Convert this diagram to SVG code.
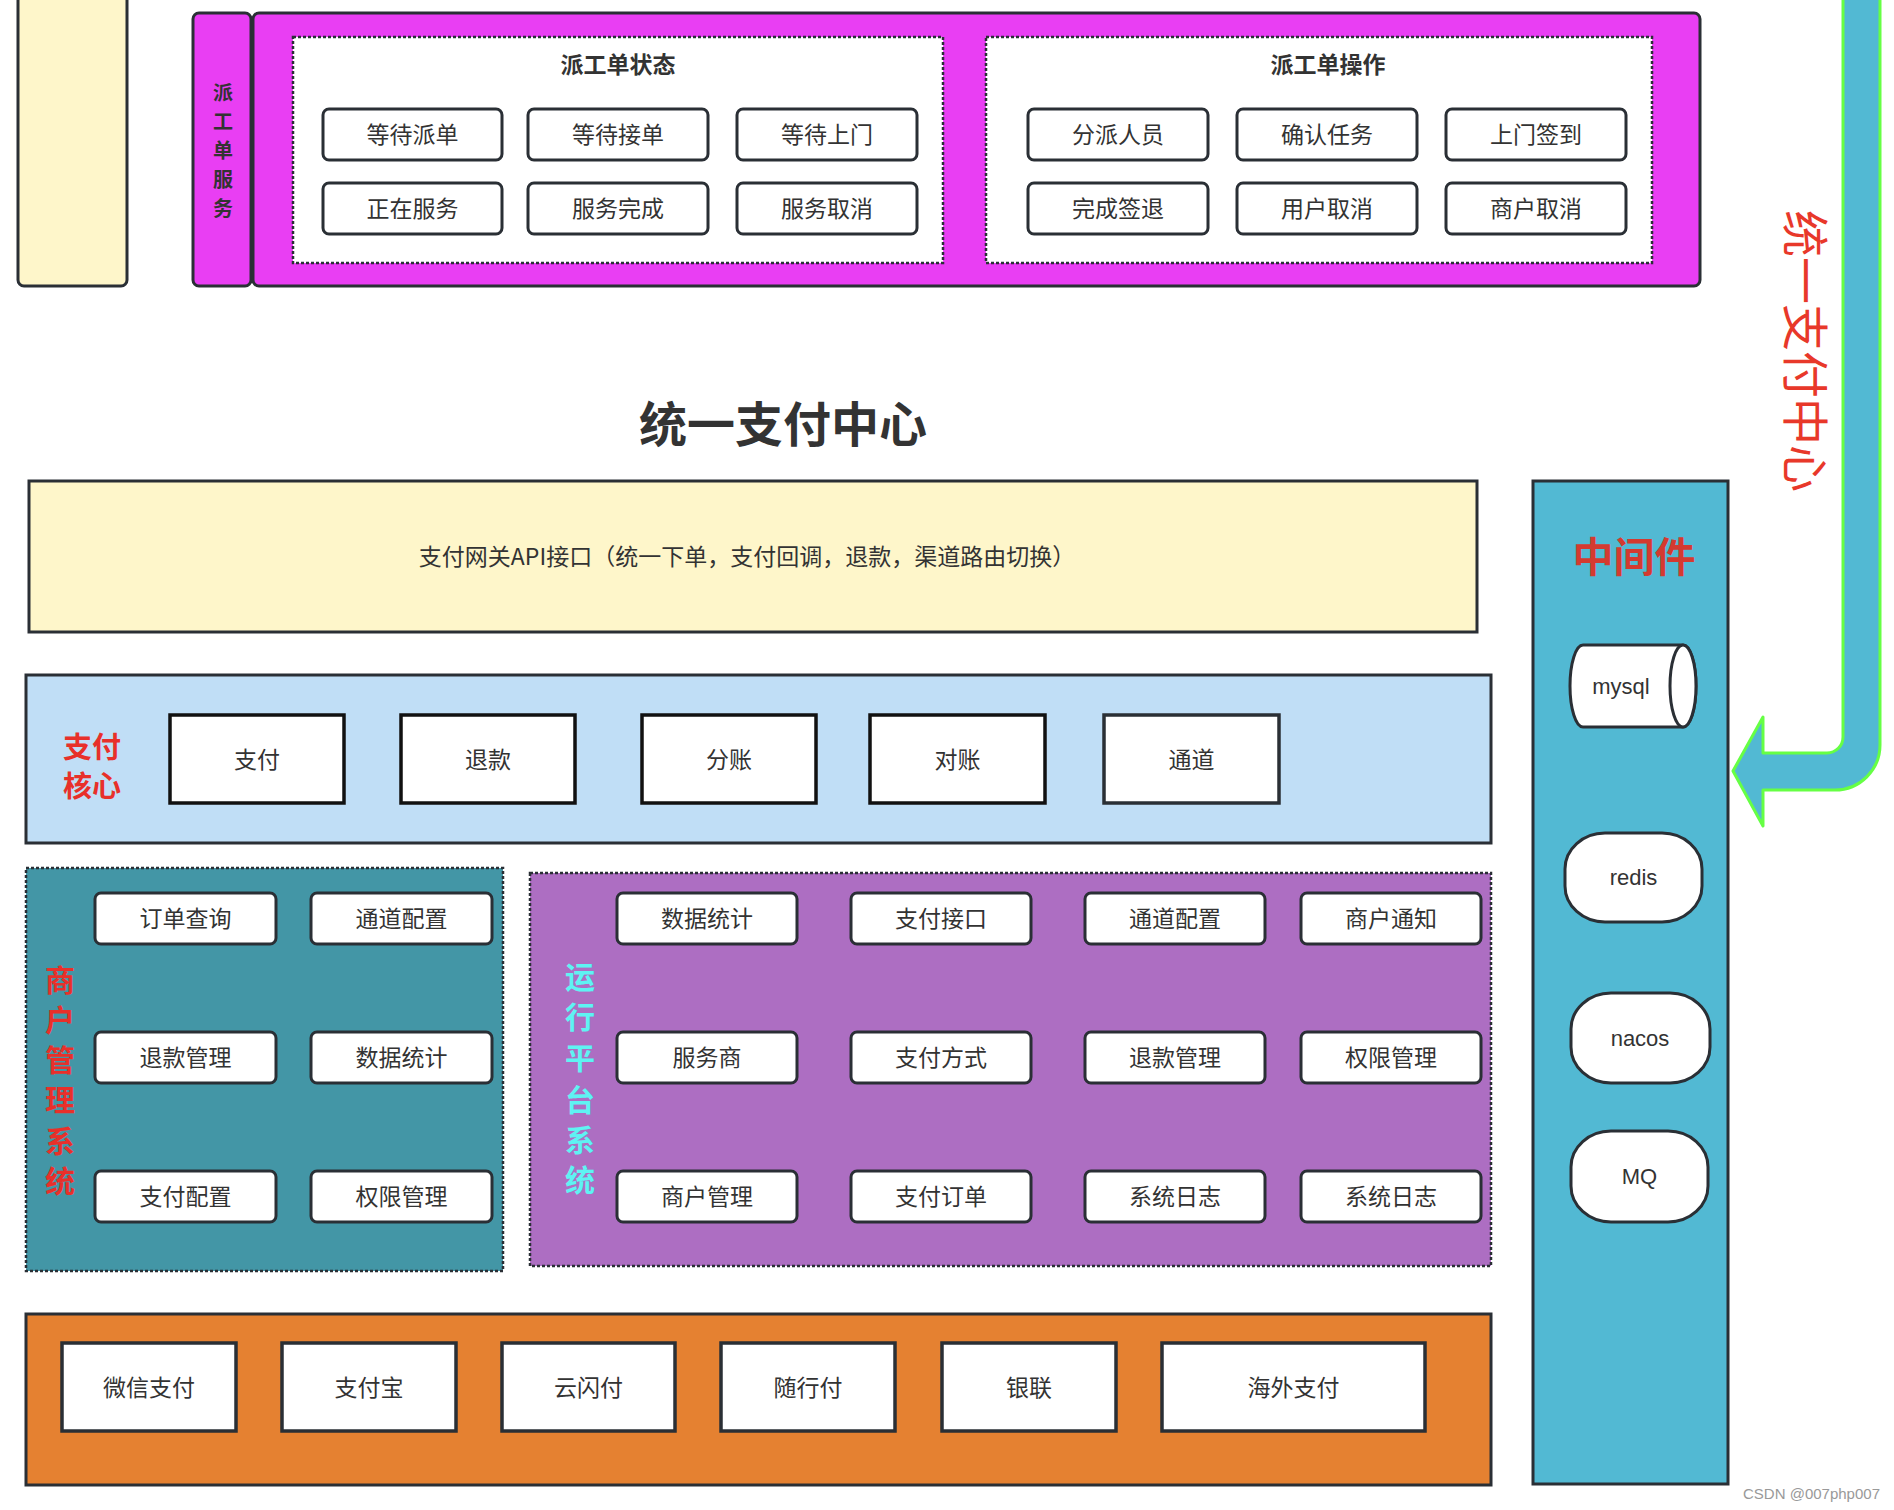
<svg xmlns="http://www.w3.org/2000/svg" width="1894" height="1510" viewBox="0 0 1894 1510">
<defs>
<style>
.t{font-family:"Noto Sans CJK SC","Liberation Sans",sans-serif;fill:#333;text-anchor:middle;dominant-baseline:central}
.btn{fill:#fff;stroke:#2a2f35;stroke-width:3}
.sq{fill:#fff;stroke:#111;stroke-width:3.5}
.ob{fill:#fff;stroke:#2a2f35;stroke-width:3.5}
.frame{stroke:#2a2f35;stroke-width:3}
.dot{stroke:#2a2f35;stroke-width:2.5;stroke-dasharray:3 2}
.bt{font-size:23px}
.vl{font-size:30px;font-weight:bold}
.lat{font-family:"Liberation Sans",Arial,sans-serif;fill:#333;text-anchor:middle;dominant-baseline:central;font-size:22px}
</style>
</defs>
<rect width="1894" height="1510" fill="#fff"/>

<g id="left-stub">
<rect x="18" y="-20" width="109" height="306" rx="6" fill="#fef6ca" class="frame"/>
</g>

<g id="dispatch-service">
<rect x="193" y="13" width="58" height="273" rx="6" fill="#e93ef3" class="frame"/>
<text class="t" x="223" font-size="20" font-weight="bold"><tspan x="223" y="91">派</tspan><tspan x="223" y="120">工</tspan><tspan x="223" y="149">单</tspan><tspan x="223" y="178">服</tspan><tspan x="223" y="207">务</tspan></text>
<rect x="253" y="13" width="1447" height="273" rx="6" fill="#e93ef3" class="frame"/>
</g>

<g id="dispatch-status">
<rect x="293" y="37" width="650" height="226" fill="#fff" class="dot"/>
<text class="t" x="618" y="63" font-size="23" font-weight="bold">派工单状态</text>
<rect class="btn" x="323" y="109" width="179" height="51" rx="6"/><text class="t bt" x="412.5" y="132.5">等待派单</text>
<rect class="btn" x="528" y="109" width="180" height="51" rx="6"/><text class="t bt" x="618" y="132.5">等待接单</text>
<rect class="btn" x="737" y="109" width="180" height="51" rx="6"/><text class="t bt" x="827" y="132.5">等待上门</text>
<rect class="btn" x="323" y="183" width="179" height="51" rx="6"/><text class="t bt" x="412.5" y="206.5">正在服务</text>
<rect class="btn" x="528" y="183" width="180" height="51" rx="6"/><text class="t bt" x="618" y="206.5">服务完成</text>
<rect class="btn" x="737" y="183" width="180" height="51" rx="6"/><text class="t bt" x="827" y="206.5">服务取消</text>
</g>

<g id="dispatch-ops">
<rect x="986" y="37" width="666" height="226" fill="#fff" class="dot"/>
<text class="t" x="1328" y="63" font-size="23" font-weight="bold">派工单操作</text>
<rect class="btn" x="1028" y="109" width="180" height="51" rx="6"/><text class="t bt" x="1118" y="132.5">分派人员</text>
<rect class="btn" x="1237" y="109" width="180" height="51" rx="6"/><text class="t bt" x="1327" y="132.5">确认任务</text>
<rect class="btn" x="1446" y="109" width="180" height="51" rx="6"/><text class="t bt" x="1536" y="132.5">上门签到</text>
<rect class="btn" x="1028" y="183" width="180" height="51" rx="6"/><text class="t bt" x="1118" y="206.5">完成签退</text>
<rect class="btn" x="1237" y="183" width="180" height="51" rx="6"/><text class="t bt" x="1327" y="206.5">用户取消</text>
<rect class="btn" x="1446" y="183" width="180" height="51" rx="6"/><text class="t bt" x="1536" y="206.5">商户取消</text>
</g>

<g id="title">
<text class="t" x="783" y="421" font-size="48" font-weight="bold">统一支付中心</text>
</g>

<g id="api-gateway">
<rect x="29" y="481" width="1448" height="151" fill="#fef6ca" class="frame"/>
<text class="t" x="747" y="555" font-size="23">支付网关API接口（统一下单，支付回调，退款，渠道路由切换）</text>
</g>

<g id="pay-core">
<rect x="26" y="675" width="1465" height="168" fill="#c0def6" class="frame"/>
<text class="t" font-size="29" font-weight="bold" style="fill:#e8302a"><tspan x="92" y="745">支付</tspan><tspan x="92" y="784">核心</tspan></text>
<rect class="sq" x="170" y="715" width="174" height="88"/><text class="t bt" x="257" y="757.5">支付</text>
<rect class="sq" x="401" y="715" width="174" height="88"/><text class="t bt" x="488" y="757.5">退款</text>
<rect class="sq" x="642" y="715" width="174" height="88"/><text class="t bt" x="729" y="757.5">分账</text>
<rect class="sq" x="870" y="715" width="175" height="88"/><text class="t bt" x="957.5" y="757.5">对账</text>
<rect class="ob" x="1104" y="715" width="175" height="88"/><text class="t bt" x="1191.5" y="757.5">通道</text>
</g>

<g id="merchant-system">
<rect x="26" y="868" width="477" height="403" fill="#4396a6" class="dot"/>
<text class="t vl" x="60" style="fill:#e8302a"><tspan x="60" y="978">商</tspan><tspan x="60" y="1018">户</tspan><tspan x="60" y="1058">管</tspan><tspan x="60" y="1098">理</tspan><tspan x="60" y="1139">系</tspan><tspan x="60" y="1179">统</tspan></text>
<rect class="btn" x="95" y="893" width="181" height="51" rx="6"/><text class="t bt" x="185.5" y="917">订单查询</text>
<rect class="btn" x="311" y="893" width="181" height="51" rx="6"/><text class="t bt" x="401.5" y="917">通道配置</text>
<rect class="btn" x="95" y="1032" width="181" height="51" rx="6"/><text class="t bt" x="185.5" y="1056">退款管理</text>
<rect class="btn" x="311" y="1032" width="181" height="51" rx="6"/><text class="t bt" x="401.5" y="1056">数据统计</text>
<rect class="btn" x="95" y="1171" width="181" height="51" rx="6"/><text class="t bt" x="185.5" y="1195">支付配置</text>
<rect class="btn" x="311" y="1171" width="181" height="51" rx="6"/><text class="t bt" x="401.5" y="1195">权限管理</text>
</g>

<g id="ops-platform">
<rect x="530" y="873" width="961" height="393" fill="#ad6ec2" class="dot"/>
<text class="t vl" x="580" style="fill:#5ef3f3"><tspan x="580" y="975">运</tspan><tspan x="580" y="1015">行</tspan><tspan x="580" y="1056">平</tspan><tspan x="580" y="1098">台</tspan><tspan x="580" y="1138">系</tspan><tspan x="580" y="1178">统</tspan></text>
<rect class="btn" x="617" y="893" width="180" height="51" rx="6"/><text class="t bt" x="707" y="917">数据统计</text>
<rect class="btn" x="851" y="893" width="180" height="51" rx="6"/><text class="t bt" x="941" y="917">支付接口</text>
<rect class="btn" x="1085" y="893" width="180" height="51" rx="6"/><text class="t bt" x="1175" y="917">通道配置</text>
<rect class="btn" x="1301" y="893" width="180" height="51" rx="6"/><text class="t bt" x="1391" y="917">商户通知</text>
<rect class="btn" x="617" y="1032" width="180" height="51" rx="6"/><text class="t bt" x="707" y="1056">服务商</text>
<rect class="btn" x="851" y="1032" width="180" height="51" rx="6"/><text class="t bt" x="941" y="1056">支付方式</text>
<rect class="btn" x="1085" y="1032" width="180" height="51" rx="6"/><text class="t bt" x="1175" y="1056">退款管理</text>
<rect class="btn" x="1301" y="1032" width="180" height="51" rx="6"/><text class="t bt" x="1391" y="1056">权限管理</text>
<rect class="btn" x="617" y="1171" width="180" height="51" rx="6"/><text class="t bt" x="707" y="1195">商户管理</text>
<rect class="btn" x="851" y="1171" width="180" height="51" rx="6"/><text class="t bt" x="941" y="1195">支付订单</text>
<rect class="btn" x="1085" y="1171" width="180" height="51" rx="6"/><text class="t bt" x="1175" y="1195">系统日志</text>
<rect class="btn" x="1301" y="1171" width="180" height="51" rx="6"/><text class="t bt" x="1391" y="1195">系统日志</text>
</g>

<g id="channels">
<rect x="26" y="1314" width="1465" height="171" fill="#e58131" class="frame"/>
<rect class="ob" x="62" y="1343" width="174" height="88"/><text class="t bt" x="149" y="1385.5">微信支付</text>
<rect class="ob" x="282" y="1343" width="174" height="88"/><text class="t bt" x="369" y="1385.5">支付宝</text>
<rect class="ob" x="502" y="1343" width="173" height="88"/><text class="t bt" x="588.5" y="1385.5">云闪付</text>
<rect class="ob" x="721" y="1343" width="174" height="88"/><text class="t bt" x="808" y="1385.5">随行付</text>
<rect class="ob" x="942" y="1343" width="174" height="88"/><text class="t bt" x="1029" y="1385.5">银联</text>
<rect class="ob" x="1162" y="1343" width="263" height="88"/><text class="t bt" x="1293.5" y="1385.5">海外支付</text>
</g>

<g id="middleware">
<rect x="1533" y="481" width="195" height="1003" fill="#52b9d3" class="frame"/>
<text class="t" x="1634" y="554" font-size="41" font-weight="bold" style="fill:#d43a30">中间件</text>
</g>

<g id="mysql">
<path d="M1583,645 L1683,645 A13,41 0 0 1 1683,727 L1583,727 A13,41 0 0 1 1583,645 Z" class="btn"/>
<ellipse cx="1683" cy="686" rx="13" ry="41" class="btn"/>
<text class="lat" x="1621" y="686">mysql</text>
</g>
<g id="redis">
<rect class="btn" x="1565" y="833" width="137" height="89" rx="40" ry="36"/>
<text class="lat" x="1633.5" y="877">redis</text>
</g>
<g id="nacos">
<rect class="btn" x="1571" y="993" width="139" height="90" rx="40" ry="36"/>
<text class="lat" x="1640" y="1038">nacos</text>
</g>
<g id="mq">
<rect class="btn" x="1571" y="1131" width="137" height="91" rx="40" ry="36"/>
<text class="lat" x="1639.5" y="1176">MQ</text>
</g>

<g id="connectors">
<path d="M1843,-10 L1843,737 A16,16 0 0 1 1827,753 L1763,753 L1763,717 L1733,771 L1763,826 L1763,790 L1835,790 A45,45 0 0 0 1880,745 L1880,-10 Z" fill="#52b9d3" stroke="#66ff44" stroke-width="3" stroke-linejoin="round"/>
</g>

<g id="side-label">
<text class="t" transform="translate(1808,351) rotate(90)" font-size="47" style="fill:#e8382a">统一支付中心</text>
</g>

<text x="1880" y="1493" font-family="Liberation Sans,Arial,sans-serif" font-size="15" fill="#999" text-anchor="end" dominant-baseline="central">CSDN @007php007</text>
</svg>
